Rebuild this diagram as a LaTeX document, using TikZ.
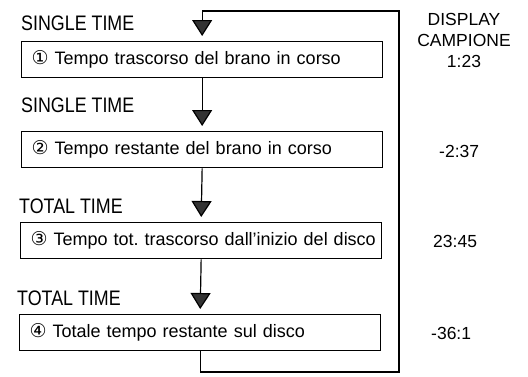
\documentclass[tikz,border=0pt]{standalone}
\usepackage{fontspec}
\setmainfont{Liberation Sans}
\newfontfamily\circfont{DejaVu Sans}
\newfontfamily\narrowfont[FakeStretch=0.85]{Liberation Sans}
\usetikzlibrary{arrows.meta}
\frenchspacing
\newcommand{\cdig}[1]{\hspace*{7pt}{\circfont\fontsize{19}{18}\selectfont #1}}
\begin{document}
\begin{tikzpicture}[x=1pt,y=-1pt,
  stepbox/.style={draw, line width=1.3pt, anchor=north west, minimum width=361pt,
    minimum height=36pt, text width=355pt, inner xsep=3pt, align=left,
    font=\fontsize{18}{20}\selectfont},
  modelab/.style={anchor=base west, inner sep=0pt, font=\narrowfont\fontsize{21}{24}\selectfont},
  displab/.style={anchor=base, inner sep=0pt, font=\fontsize{17.5}{20}\selectfont},
  flow/.style={line width=1.2pt, -{Triangle[width=20pt,length=16pt,fill=black!80]}, shorten >=5pt}]
\useasboundingbox (0,0) rectangle (528,376);
\fill[white] (0,0) rectangle (528,376);
% boxes
\node[stepbox] (b1) at (21,41) {\cdig{①} Tempo trascorso del brano in corso};
\node[stepbox] (b2) at (21,131) {\cdig{②} Tempo restante del brano in corso};
\node[stepbox] (b3) at (20,222) {\cdig{③} Tempo tot. trascorso dall’inizio del disco};
\node[stepbox] (b4) at (19,314) {\cdig{④} Totale tempo restante sul disco};
% mode labels
\node[modelab] (m1) at (21,30) {SINGLE TIME};
\node[modelab] (m2) at (21,112) {SINGLE TIME};
\node[modelab] (m3) at (19,213) {TOTAL TIME};
\node[modelab] (m4) at (17,305) {TOTAL TIME};
% display column
\node[displab] (d1) at (464,25) {DISPLAY};
\node[displab] (d2) at (464,46) {CAMPIONE};
\node[displab] (d3) at (464,67) {1:23};
\node[displab, anchor=base west] (d4) at (439,157) {-2:37};
\node[displab, anchor=base west] (d5) at (433,247) {23:45};
\node[displab, anchor=base west] (d6) at (431,339) {-36:1};
% connectors
\coordinate (rb) at (399,372);
\coordinate (rt) at (399,11);
\draw[flow] (b1.south) -- (b2.north);
\draw[flow] (b2.south) -- (b3.north);
\draw[flow] (b3.south) -- (b4.north);
\draw[flow] (b4.south) |- (rb) -- (rt) -| (b1.north);
\end{tikzpicture}
\end{document}
